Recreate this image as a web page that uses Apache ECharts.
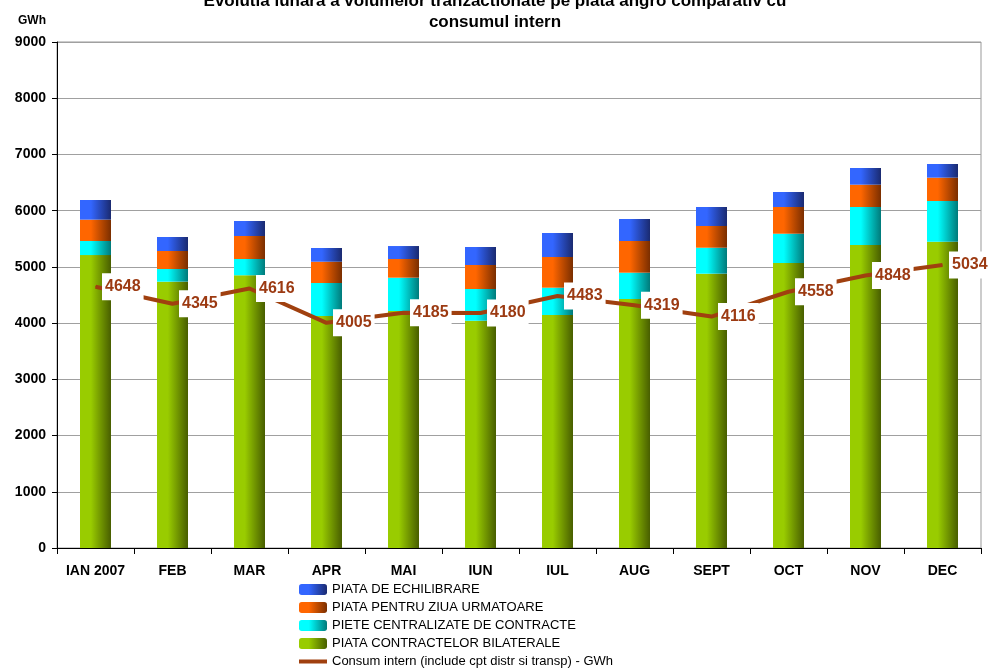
<!DOCTYPE html>
<html>
<head>
<meta charset="utf-8">
<script src="https://cdn.jsdelivr.net/npm/echarts@6/dist/echarts.min.js"></script>
<style>
  html, body { margin: 0; padding: 0; background: #fff; }
  #main { width: 990px; height: 668px; }
</style>
</head>
<body>
<div id="main"></div>
<script>
var months = ['IAN 2007', 'FEB', 'MAR', 'APR', 'MAI', 'IUN', 'IUL', 'AUG', 'SEPT', 'OCT', 'NOV', 'DEC'];
// valori (GWh)
var bilaterale = [5210, 4737, 4851, 4126, 4215, 4043, 4144, 4429, 4879, 5069, 5389, 5448];
var centralizate = [250, 225, 289, 587, 593, 564, 486, 468, 462, 521, 676, 724];
var ziuaUrm = [380, 321, 409, 379, 332, 427, 546, 563, 386, 475, 397, 415];
var echilibrare = [350, 249, 267, 244, 231, 320, 427, 392, 338, 267, 297, 243];
var consum = [4648, 4345, 4616, 4005, 4185, 4180, 4483, 4319, 4116, 4558, 4848, 5034];
var yTicks = [0, 1000, 2000, 3000, 4000, 5000, 6000, 7000, 8000, 9000];

var numeLinie = 'Consum intern (include cpt distr si transp) - GWh';

function grad(c1, c2) {
  return new echarts.graphic.LinearGradient(0, 0, 1, 0, [
    { offset: 0, color: c1 },
    { offset: 0.35, color: c1 },
    { offset: 1, color: c2 }
  ]);
}

var chart = echarts.init(document.getElementById('main'));

function barSeries(name, data, c1, c2) {
  return {
    name: name,
    type: 'bar',
    stack: 'total',
    barWidth: 31,
    data: data,
    itemStyle: { color: grad(c1, c2) }
  };
}

var option = {
  animation: false,
  title: [{
    text: 'Evolutia lunara a volumelor tranzactionate pe piata angro comparativ cu\nconsumul intern',
    left: 'center',
    top: -14,
    textStyle: { fontFamily: 'Liberation Sans', fontSize: 17, fontWeight: 'bold', color: '#000', lineHeight: 21 }
  }, {
    text: 'GWh',
    left: 13,
    top: 10,
    textStyle: { fontFamily: 'Liberation Sans', fontSize: 12, fontWeight: 'bold', color: '#000' }
  }],
  grid: {
    left: 57, right: 9, top: 42, bottom: 120,
    show: true, borderColor: '#999', borderWidth: 1
  },
  legend: {
    orient: 'vertical',
    left: 299,
    top: 583,
    height: 90,
    padding: 0,
    itemWidth: 28,
    itemHeight: 11,
    itemGap: 5,
    textStyle: { fontFamily: 'Liberation Sans', fontSize: 13, color: '#000', padding: [0, 0, 0, 0] },
    data: [
      'PIATA DE ECHILIBRARE',
      'PIATA PENTRU ZIUA URMATOARE',
      'PIETE CENTRALIZATE DE CONTRACTE',
      'PIATA CONTRACTELOR BILATERALE',
      { name: numeLinie, icon: 'path://M0,0 L28,0 L28,4 L0,4 Z' }
    ]
  },
  xAxis: {
    type: 'category',
    data: months,
    axisLine: { lineStyle: { color: '#000', width: 1 } },
    axisTick: { show: true, length: 6, lineStyle: { color: '#000' } },
    axisLabel: { margin: 16, fontFamily: 'Liberation Sans', fontSize: 14, fontWeight: 'bold', color: '#000' }
  },
  yAxis: {
    type: 'value',
    min: yTicks[0],
    max: yTicks[yTicks.length - 1],
    interval: 1000,
    axisLine: { show: true, lineStyle: { color: '#000', width: 1 } },
    axisTick: { show: true, length: 5, lineStyle: { color: '#000' } },
    axisLabel: {
      margin: 11, fontFamily: 'Liberation Sans', fontSize: 14, fontWeight: 'bold', color: '#000',
      formatter: function (v) { return String(v); }
    },
    splitLine: { lineStyle: { color: '#a0a0a0', width: 1 } }
  },
  series: [
    barSeries('PIATA CONTRACTELOR BILATERALE', bilaterale, '#99CC00', '#485E00'),
    barSeries('PIETE CENTRALIZATE DE CONTRACTE', centralizate, '#00FFFF', '#007A7A'),
    barSeries('PIATA PENTRU ZIUA URMATOARE', ziuaUrm, '#FF6600', '#7A2E00'),
    barSeries('PIATA DE ECHILIBRARE', echilibrare, '#3366FF', '#1A2A70'),
    {
      name: numeLinie,
      type: 'line',
      data: consum,
      symbol: 'circle',
      symbolSize: 1,
      showSymbol: true,
      z: 5,
      itemStyle: { color: '#A0400F' },
      lineStyle: { color: '#A0400F', width: 4 },
      label: {
        show: true,
        position: 'right',
        distance: 6,
        backgroundColor: '#fff',
        padding: [6, 3, 5, 3],
        fontFamily: 'Liberation Sans',
        fontSize: 16,
        fontWeight: 'bold',
        color: '#9C3A12'
      }
    }
  ]
};

chart.setOption(option);
</script>
</body>
</html>
